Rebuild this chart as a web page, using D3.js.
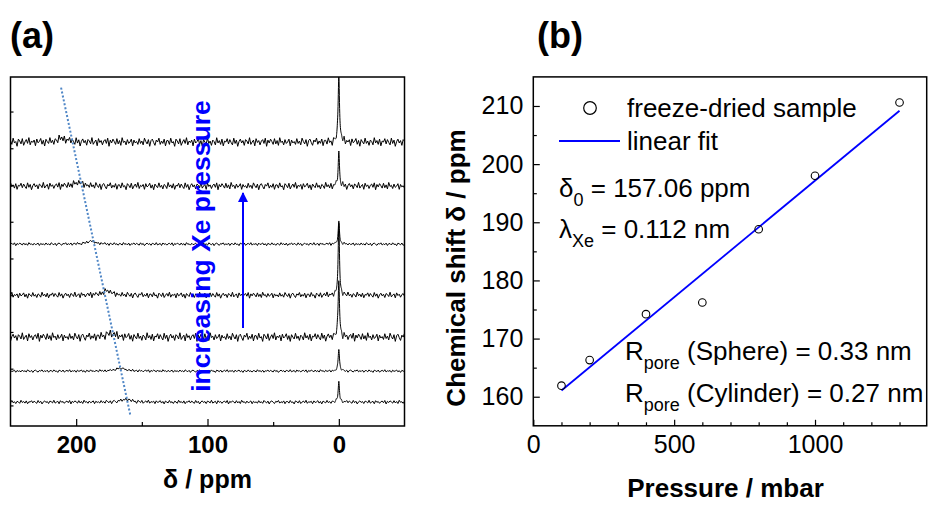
<!DOCTYPE html>
<html>
<head>
<meta charset="utf-8">
<script src="https://cdn.jsdelivr.net/npm/d3@7"></script>
<style>
  body { margin: 0; background: #fff; }
  svg { display: block; font-family: "Liberation Sans", Arial, sans-serif; }
</style>
</head>
<body>
<svg id="chart" width="928" height="507"></svg>
<script>
// ---- panel (a): 129Xe spectra, listed top (highest pressure) to bottom ----
const traceOffsets = [71.7, 59.7, 43.9, 30.0, 18.6, 9.35, 0.9];
const gasPeakHeights = [19, 9, 6, 19, 16, 6, 5.5];
const poreShifts = [210.6, 198.0, 188.8, 176.2, 174.2, 166.3, 161.9];
const poreHeights = [1.0, 1.0, 0.8, 1.2, 1.0, 0.8, 0.8];
const noiseLevels = [1.3, 1.1, 0.45, 0.9, 1.3, 0.4, 0.55];
const noiseStart = [0, 37, 71, 13, 53, 89, 29];
// hand drawn baseline wiggle, reused along each trace
const wiggle = [0.3,-0.5,0.8,-0.2,0.1,-0.9,0.6,0.2,-0.4,0.7,-0.7,0.0,0.5,-0.3,0.9,-0.6,0.2,-0.1,0.4,-0.8,
  0.6,-0.2,0.1,0.7,-0.5,0.3,-0.9,0.5,0.0,-0.4,0.8,-0.3,0.2,-0.7,0.4,0.1,-0.6,0.9,-0.2,0.3,
  -0.5,0.6,-0.8,0.2,0.0,0.7,-0.4,0.5,-0.1,-0.6,0.8,-0.3,0.4,-0.9,0.1,0.6,-0.2,0.3,-0.7,0.5,
  0.2,-0.4,0.9,-0.5,0.0,0.4,-0.8,0.7,-0.1,0.3,-0.6,0.2,0.5,-0.3,0.8,-0.9,0.4,-0.2,0.6,0.1,
  -0.5,0.7,-0.4,0.3,-0.7,0.9,-0.1,0.2,-0.6,0.5,-0.3,0.0,0.6,-0.8,0.4,-0.2,0.1,-0.5,0.7,-0.3,
  0.2,-0.6,0.8,0.1,-0.4,0.5,-0.9,0.3,0.6,-0.1,-0.7,0.4,0.0,0.8,-0.5,0.2,-0.3,0.6,-0.8,0.3];
const guidePpm = [211.5, 158.8];
const guideLevel = [86.5, -2.6];
const ppmTicks = [200, 100, 0];
const ppmMinor = [150, 50];

// ---- panel (b): chemical shift vs pressure ----
const pressure = [100, 200, 400, 600, 800, 1000, 1300];
const shift = [161.9, 166.3, 174.2, 176.2, 188.8, 198.0, 210.6];
const fitIntercept = 157.06;
const fitSlope = 0.0401;
const fitRange = [100, 1300];
const pressureTicks = [0, 500, 1000];
const shiftTicks = [160, 170, 180, 190, 200, 210];

let svg = d3.select("#chart");
const blue = "#0000ff";

// ================= panel (a) =================
let ax = d3.scaleLinear().domain([250, -50]).range([10.5, 404.5]);
let ay = d3.scaleLinear().domain([-5.6, 89.4]).range([426, 77]);

svg.append("clipPath").attr("id", "clipA")
  .append("rect").attr("x", 10.5).attr("y", 77).attr("width", 394).attr("height", 349);

let grid = d3.range(250, 4, -1).concat(d3.range(4, -4, -0.1), d3.range(-4, -50.5, -1));

function wig(t) {
  let n = wiggle.length;
  let i = Math.floor(t), f = t - i;
  return wiggle[i % n] * (1 - f) + wiggle[(i + 1) % n] * f;
}

let spectra = traceOffsets.map((off, k) => grid.map(p => ({
  ppm: p,
  v: off
    + gasPeakHeights[k] / (1 + (p / 0.6) ** 2)
    + poreHeights[k] / (1 + ((p - poreShifts[k]) / 4) ** 2)
    + noiseLevels[k] * wig(250 - p + noiseStart[k])
})));

let lineA = d3.line().x(d => ax(d.ppm)).y(d => ay(d.v));
let gA = svg.append("g").attr("clip-path", "url(#clipA)");
gA.selectAll("path.trace").data(spectra).join("path")
  .attr("class", "trace")
  .attr("d", lineA)
  .attr("fill", "none")
  .attr("stroke", "#000")
  .attr("stroke-width", 1);

gA.append("path")
  .datum(guidePpm.map((p, i) => ({ ppm: p, v: guideLevel[i] })))
  .attr("d", lineA)
  .attr("fill", "none")
  .attr("stroke", "#4f86c6")
  .attr("stroke-width", 2)
  .attr("stroke-dasharray", "2,2");

// axes a
let axA = svg.append("g").attr("transform", "translate(0,426)")
  .call(d3.axisBottom(ax).tickValues(ppmTicks).tickSize(-7).tickPadding(10));
axA.selectAll("text").attr("font-size", 24).attr("font-weight", "bold")
  .attr("font-family", "Liberation Sans, Arial, sans-serif").attr("fill", "#000");
svg.append("g").attr("transform", "translate(0,426)")
  .call(d3.axisBottom(ax).tickValues(ppmMinor).tickSize(-4).tickFormat(""));
svg.append("g").attr("transform", "translate(10.5,0)")
  .call(d3.axisLeft(ay).tickValues(d3.range(0, 81, 10)).tickSize(-3).tickFormat(""));
svg.selectAll(".domain").remove();
svg.append("rect").attr("x", 10.5).attr("y", 77).attr("width", 394).attr("height", 349)
  .attr("fill", "none").attr("stroke", "#000").attr("stroke-width", 1.5);

svg.append("text").attr("x", 207.5).attr("y", 488).attr("text-anchor", "middle")
  .attr("font-size", 25).attr("font-weight", "bold").text("δ / ppm");
svg.append("text").attr("x", 10).attr("y", 48)
  .attr("font-size", 36).attr("font-weight", "bold").text("(a)");

// pressure arrow + label
svg.append("defs").append("marker").attr("id", "arrowhead")
  .attr("viewBox", "0 0 10 10").attr("refX", 9).attr("refY", 5)
  .attr("markerWidth", 5).attr("markerHeight", 5).attr("orient", "auto")
  .append("path").attr("d", "M0,0L10,5L0,10Z").attr("fill", blue);
svg.append("line").attr("x1", 243).attr("y1", 328).attr("x2", 243).attr("y2", 193)
  .attr("stroke", blue).attr("stroke-width", 2).attr("marker-end", "url(#arrowhead)");
svg.append("text")
  .attr("transform", "translate(210,246) rotate(-90)")
  .attr("text-anchor", "middle").attr("font-size", 26.5).attr("font-weight", "bold")
  .attr("fill", blue).text("increasing Xe pressure");

// ================= panel (b) =================
let bx = d3.scaleLinear().domain([0, 1400]).range([533.3, 927.7]);
let by = d3.scaleLinear().domain([155, 215]).range([425.8, 76.9]);

let axB = svg.append("g").attr("transform", "translate(0,425.8)")
  .call(d3.axisBottom(bx).tickValues(pressureTicks).tickSize(-6).tickPadding(9).tickFormat(d3.format("d")));
svg.append("g").attr("transform", "translate(0,425.8)")
  .call(d3.axisBottom(bx).tickValues(d3.range(100, 1400, 100).filter(v => v % 500)).tickSize(-3.5).tickFormat(""));
let ayB = svg.append("g").attr("transform", "translate(533.3,0)")
  .call(d3.axisLeft(by).tickValues(shiftTicks).tickSize(-6.5).tickPadding(10));
svg.append("g").attr("transform", "translate(533.3,0)")
  .call(d3.axisLeft(by).tickValues(d3.range(165, 215, 10)).tickSize(-3.5).tickFormat(""));
svg.selectAll(".domain").remove();
svg.selectAll(".tick line").attr("stroke", "#000").attr("stroke-width", 1.2);
[axB, ayB].forEach(g => g.selectAll("text").attr("font-size", 25)
  .attr("font-family", "Liberation Sans, Arial, sans-serif").attr("fill", "#000"));

svg.append("rect").attr("x", 533.3).attr("y", 76.9).attr("width", 393.4).attr("height", 348.9)
  .attr("fill", "none").attr("stroke", "#000").attr("stroke-width", 1.5);

svg.append("path")
  .datum(fitRange.map(p => ({ p: p, s: fitIntercept + fitSlope * p })))
  .attr("d", d3.line().x(d => bx(d.p)).y(d => by(d.s)))
  .attr("fill", "none").attr("stroke", blue).attr("stroke-width", 1.8);

svg.selectAll("circle.pt").data(pressure).join("circle")
  .attr("class", "pt")
  .attr("cx", d => bx(d))
  .attr("cy", (d, i) => by(shift[i]))
  .attr("r", 3.8)
  .attr("fill", "none").attr("stroke", "#000").attr("stroke-width", 1.1);

// legend
svg.append("circle").attr("cx", 590).attr("cy", 108).attr("r", 6.3)
  .attr("fill", "none").attr("stroke", "#000").attr("stroke-width", 1.2);
svg.append("text").attr("x", 627).attr("y", 116.5).attr("font-size", 26).text("freeze-dried sample");
svg.append("line").attr("x1", 559).attr("x2", 620).attr("y1", 141).attr("y2", 141)
  .attr("stroke", blue).attr("stroke-width", 1.8);
svg.append("text").attr("x", 627).attr("y", 150).attr("font-size", 26).text("linear fit");

// annotations with subscripts
function subText(x, y, main, sub, rest) {
  let t = svg.append("text").attr("x", x).attr("y", y).attr("font-size", 26);
  t.append("tspan").text(main);
  t.append("tspan").attr("font-size", 18).attr("dy", 9).text(sub);
  t.append("tspan").attr("dy", -9).text(rest);
}
subText(559, 196.7, "δ", "0", " = 157.06 ppm");
subText(559, 238.3, "λ", "Xe", " = 0.112 nm");
subText(625, 360, "R", "pore", " (Sphere) = 0.33 nm");
subText(625, 401.7, "R", "pore", " (Cylinder) = 0.27 nm");

svg.append("text").attr("transform", "translate(465,268) rotate(-90)")
  .attr("text-anchor", "middle").attr("font-size", 26).attr("font-weight", "bold")
  .text("Chemical shift δ / ppm");
svg.append("text").attr("x", 725.5).attr("y", 497).attr("text-anchor", "middle")
  .attr("font-size", 26).attr("font-weight", "bold").text("Pressure / mbar");
svg.append("text").attr("x", 537).attr("y", 48)
  .attr("font-size", 36).attr("font-weight", "bold").text("(b)");
</script>
</body>
</html>
